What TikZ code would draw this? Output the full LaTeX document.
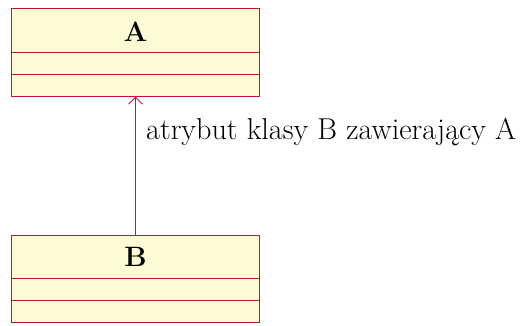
\documentclass[tikz,border=0pt]{standalone}
\usetikzlibrary{arrows.meta}
\definecolor{umlborder}{HTML}{C8103F}
\definecolor{umlfill}{HTML}{FEFBD4}
\tikzset{
  x=1pt, y=-1pt,
  classbox/.style={draw=umlborder, fill=umlfill, line width=1pt, minimum width=248pt, minimum height=88pt, anchor=north west, inner sep=0pt, outer sep=0pt},
  sepline/.style={draw=umlborder, line width=1pt},
  title/.style={font=\fontsize{28}{33}\selectfont\bfseries, anchor=base, inner sep=0pt},
  assoc/.style={draw=umlborder, line width=1pt, -{Straight Barb[length=7pt,width=14pt]}},
  lbl/.style={font=\fontsize{30.2}{36}\selectfont, anchor=base west, inner sep=0pt}
}
\begin{document}
\begin{tikzpicture}
\useasboundingbox (0,0) rectangle (523,325);
\node[classbox] (A) at (11.5,8.5) {};
\draw[sepline] ([yshift=-44pt]A.north west) -- ([yshift=-44pt]A.north east);
\draw[sepline] ([yshift=-66pt]A.north west) -- ([yshift=-66pt]A.north east);
\node[title] (Atitle) at (135.5,41) {A};
\node[classbox, minimum height=87pt] (B) at (11.5,235.5) {};
\draw[sepline] ([yshift=-43pt]B.north west) -- ([yshift=-43pt]B.north east);
\draw[sepline] ([yshift=-65pt]B.north west) -- ([yshift=-65pt]B.north east);
\node[title] (Btitle) at (135.5,266.5) {B};
\draw[assoc] (B.north) -- (A.south);
\node[lbl] (lab) at (146,139) {atrybut klasy B zawierający A};
\end{tikzpicture}
\end{document}
